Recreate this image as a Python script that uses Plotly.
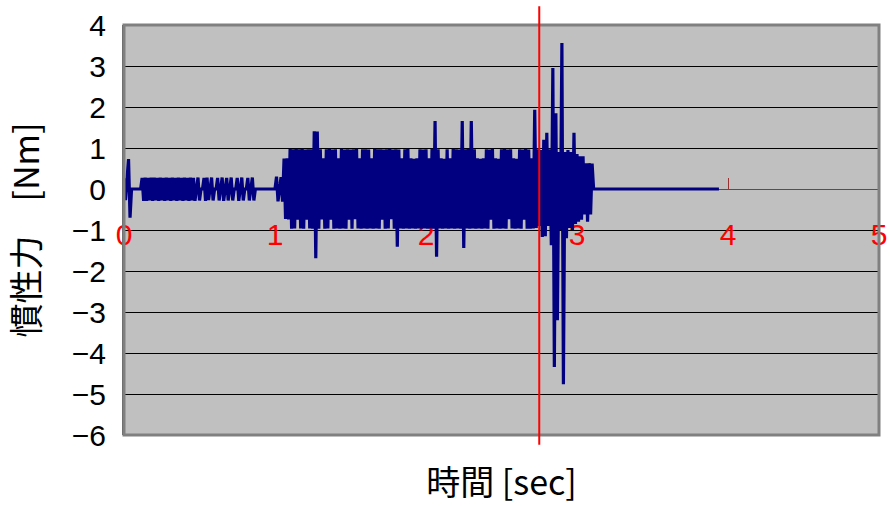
import plotly.graph_objects as go

# Inertial torque record, sampled every 10 ms from t = 0 s.
sample_dt_s = 0.01
torque_nm = [
    0.26, -0.27, 0.25, 0.73, -0.70, 0.0, 0.0, 0.0, 0.0, 0.0,            # 0.0
    0.0, 0.0, 0.27, -0.29, 0.28, -0.29, 0.27, -0.28, 0.28, -0.29,        # 0.1
    0.28, -0.28, 0.27, -0.29, 0.28, -0.28, 0.27, -0.29, 0.28, -0.28,     # 0.2
    0.27, -0.29, 0.28, -0.28, 0.27, -0.29, 0.28, -0.28, 0.27, -0.29,     # 0.3
    0.28, -0.28, 0.27, -0.29, 0.28, -0.28, 0.27, -0.29, 0.0, 0.28,       # 0.4
    -0.28, 0.0, 0.0, 0.27, -0.29, 0.28, -0.27, 0.0, 0.28, -0.28,         # 0.5
    0.0, 0.0, 0.27, -0.28, 0.0, 0.28, -0.29, 0.0, 0.27, -0.28,           # 0.6
    0.0, 0.28, -0.28, 0.0, 0.0, 0.27, -0.29, 0.0, 0.28, -0.28,           # 0.7
    0.0, 0.0, 0.27, -0.28, 0.0, 0.28, -0.28, 0.0, 0.0, 0.0,              # 0.8
    0.0, 0.0, 0.0, 0.0, 0.0, 0.0, 0.0, 0.0, 0.0, 0.0,                    # 0.9
    0.0, 0.30, -0.30, 0.0, 0.29, -0.31, 0.74, -0.73, 0.75, -0.74,        # 1.0
    0.98, -0.97, 0.97, -0.96, 0.98, -0.75, 0.97, -0.96, 0.98, -0.97,     # 1.1
    0.96, -0.75, 0.97, -0.96, 0.97, -0.97, 1.41, -1.69, 1.40, -0.97,     # 1.2
    0.97, -0.74, 0.75, -0.97, 0.97, -0.96, 0.98, -0.75, 0.96, -0.97,     # 1.3
    0.97, -0.96, 0.75, -0.97, 0.98, -0.96, 0.96, -0.97, 0.97, -0.75,     # 1.4
    0.96, -0.97, 0.97, -0.74, 0.98, -0.96, 0.75, -0.97, 0.97, -0.96,     # 1.5
    0.97, -0.97, 0.96, -0.96, 0.75, -0.97, 0.98, -0.96, 0.97, -0.97,     # 1.6
    0.97, -0.75, 0.96, -0.97, 0.97, -0.96, 0.98, -0.74, 0.96, -0.97,     # 1.7
    0.97, -1.41, 0.96, -0.96, 0.75, -0.97, 0.97, -0.96, 0.98, -0.97,     # 1.8
    0.75, -0.96, 0.74, -0.97, 0.75, -0.96, 0.97, -0.97, 0.96, -0.96,     # 1.9
    0.97, -0.97, 0.75, -0.96, 0.98, -0.97, 1.66, -1.65, 0.97, -0.96,     # 2.0
    0.75, -0.97, 0.74, -0.96, 0.97, -0.97, 0.75, -0.96, 0.98, -0.97,     # 2.1
    0.97, -0.96, 0.96, -0.97, 1.66, -1.44, 0.97, -0.96, 0.98, -0.97,     # 2.2
    1.66, -0.96, 0.97, -0.97, 0.75, -0.96, 0.74, -0.97, 0.75, -0.96,     # 2.3
    0.97, -0.97, 0.96, -0.75, 0.98, -0.97, 0.75, -0.96, 0.74, -0.97,     # 2.4
    0.97, -0.96, 0.98, -0.97, 0.96, -0.74, 0.97, -0.96, 0.75, -0.97,     # 2.5
    0.74, -0.96, 0.97, -0.97, 0.96, -0.75, 0.98, -0.97, 0.96, -0.97,     # 2.6
    0.75, -0.96, 1.93, -0.95, 0.97, -0.90, 0.95, -1.17, 1.20, -1.15,     # 2.7
    1.37, -0.90, 0.97, -1.37, 2.95, -4.34, 1.85, -3.20, 0.90, -1.00,     # 2.8
    3.56, -4.76, 0.90, -1.20, 0.95, -0.95, 0.90, -1.00, 1.37, -0.85,     # 2.9
    0.85, -0.80, 0.80, -0.75, 0.80, -0.62, 0.63, -0.80, 0.63, -0.62,     # 3.0
    0.62, 0.0,                                                           # 3.1
]
record_end_s = 3.94  # signal stays at zero until the end of the record

x_ticks = [0, 1, 2, 3, 4, 5]
y_ticks = [-6, -5, -4, -3, -2, -1, 0, 1, 2, 3, 4]
marker_time_s = 2.75

time_s = [round(i * sample_dt_s, 2) for i in range(len(torque_nm))] + [record_end_s]
values = torque_nm + [0.0]

fig = go.Figure()
fig.add_trace(go.Scatter(
    x=time_s, y=values, mode="lines",
    line=dict(color="#000080", width=3.2),
    xaxis="x2", yaxis="y", showlegend=False, hoverinfo="skip",
))

tick_font = dict(family="Liberation Sans, Arial, sans-serif", size=30)
title_font = dict(family="Noto Sans CJK JP, sans-serif", size=34, color="black")

fig.update_layout(
    width=890, height=506,
    margin=dict(l=124, r=11, t=25, b=71),
    paper_bgcolor="white",
    plot_bgcolor="#C0C0C0",
    xaxis=dict(
        range=[0, 5], showgrid=False, zeroline=False, showticklabels=False,
        showline=False, ticks="", automargin=False,
        title=dict(text="時間 [sec]", font=title_font, standoff=36),
    ),
    xaxis2=dict(
        overlaying="x", matches="x", range=[0, 5], anchor="free", position=0.6,
        side="bottom", tickvals=x_ticks, ticktext=[str(v) for v in x_ticks],
        tickfont=dict(tick_font, color="#FF0000"),
        ticks="inside", ticklen=11, tickwidth=1, tickcolor="#993333",
        showline=True, linecolor="#993333", linewidth=1,
        showgrid=False, zeroline=False, layer="below traces",
        ticklabelstandoff=19, automargin=False,
    ),
    yaxis=dict(
        range=[-6, 4], tickvals=y_ticks, tickfont=dict(tick_font, color="black"),
        showgrid=True, gridcolor="black", gridwidth=1, zeroline=False,
        showline=True, linecolor="#606060", linewidth=2,
        ticks="", ticklabelstandoff=10, automargin=False,
        title=dict(text="慣性力\u3000[Nm]", font=title_font, standoff=22),
    ),
    shapes=[
        dict(type="rect", xref="paper", yref="paper", x0=0, x1=1, y0=0, y1=1,
             line=dict(color="#808080", width=3), layer="above"),
        dict(type="line", xref="x", yref="paper", x0=marker_time_s, x1=marker_time_s,
             y0=-0.024, y1=1.046, line=dict(color="#FF0000", width=2), layer="above"),
    ],
)

fig.write_html("out.html")
